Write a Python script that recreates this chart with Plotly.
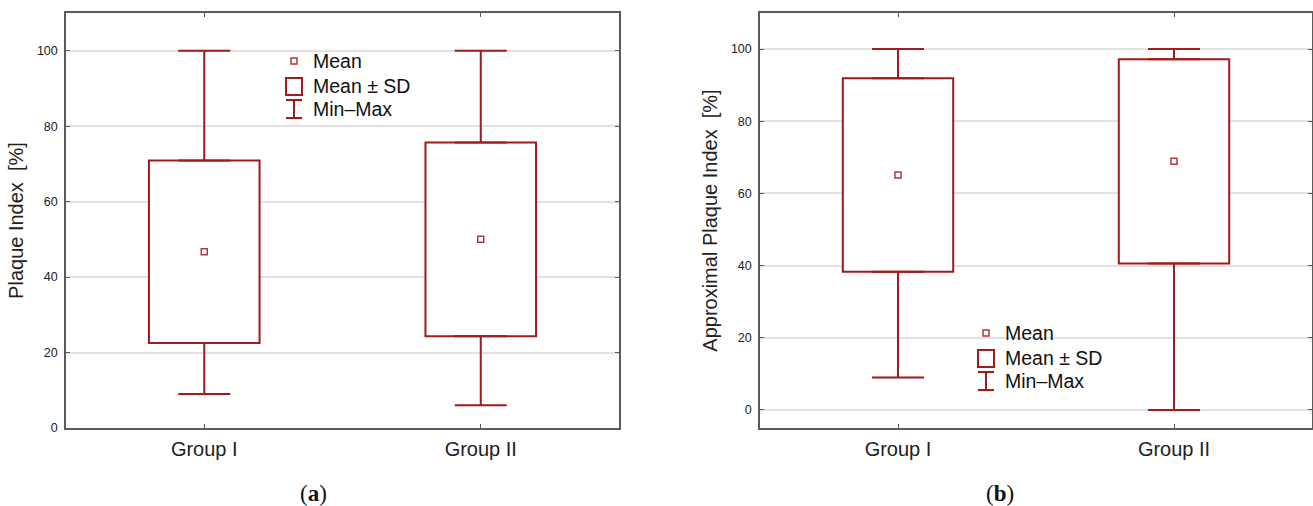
import plotly.graph_objects as go
import numpy as np

# ---------------- data ----------------
groups = ["Group I", "Group II"]

# (a) Plaque Index [%]
pi_mean = [46.7, 50.0]
pi_sd = [24.2, 25.7]
pi_min = [9.0, 6.0]
pi_max = [100.0, 100.0]

# (b) Approximal Plaque Index [%]
api_mean = [65.1, 68.9]
api_sd = [26.8, 28.3]
api_min = [9.0, 0.0]
api_max = [100.0, 100.0]

y_ticks = [0, 20, 40, 60, 80, 100]

# ---------------- style ----------------
W, H = 1313, 506
RED = "#9e1b1b"
RED_L = "#b03a3a"
AXC = "#5a5a5a"
GRID = "#e2e2e2"
FONT = "Liberation Sans, Arial, sans-serif"

fig = go.Figure()


def add_panel(fig, xa, ya, mean, sd, vmin, vmax):
    mean = np.array(mean)
    sd = np.array(sd)
    lo = mean - sd
    hi = mean + sd
    vmin = np.array(vmin)
    vmax = np.array(vmax)
    # Mean ± SD box
    fig.add_trace(go.Bar(
        x=groups, y=hi - lo, base=lo, width=0.4,
        marker=dict(color="white", line=dict(color=RED, width=2)),
        xaxis=xa, yaxis=ya, showlegend=False, hoverinfo="skip"))
    # upper whisker (box top -> max)
    fig.add_trace(go.Scatter(
        x=groups, y=hi, mode="markers",
        marker=dict(size=1, color="rgba(0,0,0,0)"),
        error_y=dict(type="data", symmetric=False, array=vmax - hi,
                     arrayminus=[0] * len(groups), color=RED,
                     thickness=2, width=26),
        xaxis=xa, yaxis=ya, showlegend=False, hoverinfo="skip"))
    # lower whisker (box bottom -> min)
    fig.add_trace(go.Scatter(
        x=groups, y=lo, mode="markers",
        marker=dict(size=1, color="rgba(0,0,0,0)"),
        error_y=dict(type="data", symmetric=False, array=[0] * len(groups),
                     arrayminus=lo - vmin, color=RED,
                     thickness=2, width=26),
        xaxis=xa, yaxis=ya, showlegend=False, hoverinfo="skip"))
    # mean marker
    fig.add_trace(go.Scatter(
        x=groups, y=mean, mode="markers",
        marker=dict(symbol="square-open", size=6, color=RED_L,
                    line=dict(width=1.5, color=RED_L)),
        xaxis=xa, yaxis=ya, showlegend=False))


add_panel(fig, "x", "y", pi_mean, pi_sd, pi_min, pi_max)
add_panel(fig, "x2", "y2", api_mean, api_sd, api_min, api_max)


def px_x(x):
    return x / W


def px_y(y):
    return 1 - y / H


common_x = dict(
    type="category", range=[-0.5, 1.5], showgrid=False, zeroline=False,
    showline=True, linecolor=AXC, linewidth=1.5, mirror="ticks",
    ticks="inside", ticklen=4, tickcolor=AXC,
    tickfont=dict(family=FONT, size=20, color="#222"),
    ticklabelstandoff=2, automargin=False)
common_y = dict(
    tickvals=y_ticks, showgrid=True, gridcolor=GRID, gridwidth=1.5,
    zeroline=False, showline=True, linecolor=AXC, linewidth=1.5,
    mirror="ticks", ticks="inside", ticklen=4, tickcolor=AXC,
    tickfont=dict(family=FONT, size=12.5, color="#222"),
    ticklabelstandoff=4, automargin=False)

ydom = [px_y(428), px_y(13)]

fig.update_layout(
    width=W, height=H,
    margin=dict(l=0, r=0, t=0, b=0),
    paper_bgcolor="white", plot_bgcolor="white",
    showlegend=False, barmode="overlay",
    font=dict(family=FONT, color="#222"),
    xaxis=dict(common_x, domain=[px_x(66), px_x(619)], anchor="y"),
    yaxis=dict(common_y, domain=ydom, range=[0, 110], anchor="x",
               title=dict(text="Plaque Index\u00a0 [%]", standoff=8,
                          font=dict(family=FONT, size=20, color="#222"))),
    xaxis2=dict(common_x, domain=[px_x(760), px_x(1312)], anchor="y2"),
    yaxis2=dict(common_y, domain=ydom, range=[-5, 110], anchor="x2",
                title=dict(text="Approximal Plaque Index\u00a0 [%]", standoff=8,
                           font=dict(family=FONT, size=20, color="#222"))),
)

# ---------------- custom legends (paper coords from pixels) ----------------
def add_legend(fig, x0, y0):
    # x0: left of the glyph column, y0: centre of first legend row
    cx = x0 + 8
    # Mean small square
    fig.add_shape(type="rect", xref="paper", yref="paper",
                  x0=px_x(cx - 3), x1=px_x(cx + 3),
                  y0=px_y(y0 + 3), y1=px_y(y0 - 3),
                  line=dict(color=RED_L, width=1.5), fillcolor="white")
    # Mean ± SD big square
    fig.add_shape(type="rect", xref="paper", yref="paper",
                  x0=px_x(x0), x1=px_x(x0 + 16),
                  y0=px_y(y0 + 34), y1=px_y(y0 + 17),
                  line=dict(color=RED, width=2), fillcolor="white")
    # Min-Max I glyph
    for (a, b, c, d) in [(cx, y0 + 39, cx, y0 + 57),
                         (x0, y0 + 39, x0 + 16, y0 + 39),
                         (x0, y0 + 57, x0 + 16, y0 + 57)]:
        fig.add_shape(type="line", xref="paper", yref="paper",
                      x0=px_x(a), y0=px_y(b), x1=px_x(c), y1=px_y(d),
                      line=dict(color=RED, width=2))
    labels = ["Mean", "Mean ± SD", "Min\u2013Max"]
    ys = [y0, y0 + 25, y0 + 48]
    for t, yy in zip(labels, ys):
        fig.add_annotation(xref="paper", yref="paper", x=px_x(x0 + 25),
                           y=px_y(yy), text=t, showarrow=False,
                           xanchor="left", yanchor="middle",
                           font=dict(family=FONT, size=19.5, color="#111"))


add_legend(fig, 286, 61)
add_legend(fig, 978, 333)

# captions
for txt, x in [("(<b>a</b>)", 313), ("(<b>b</b>)", 1000)]:
    fig.add_annotation(xref="paper", yref="paper", x=px_x(x), y=px_y(493),
                       text=txt, showarrow=False, xanchor="center",
                       yanchor="middle",
                       font=dict(family="Liberation Serif, serif", size=23,
                                 color="#111"))

fig.write_html(
    "out.html",
    config={"displayModeBar": False},
    post_script="document.body.style.margin='0';document.body.style.padding='0';",
)
